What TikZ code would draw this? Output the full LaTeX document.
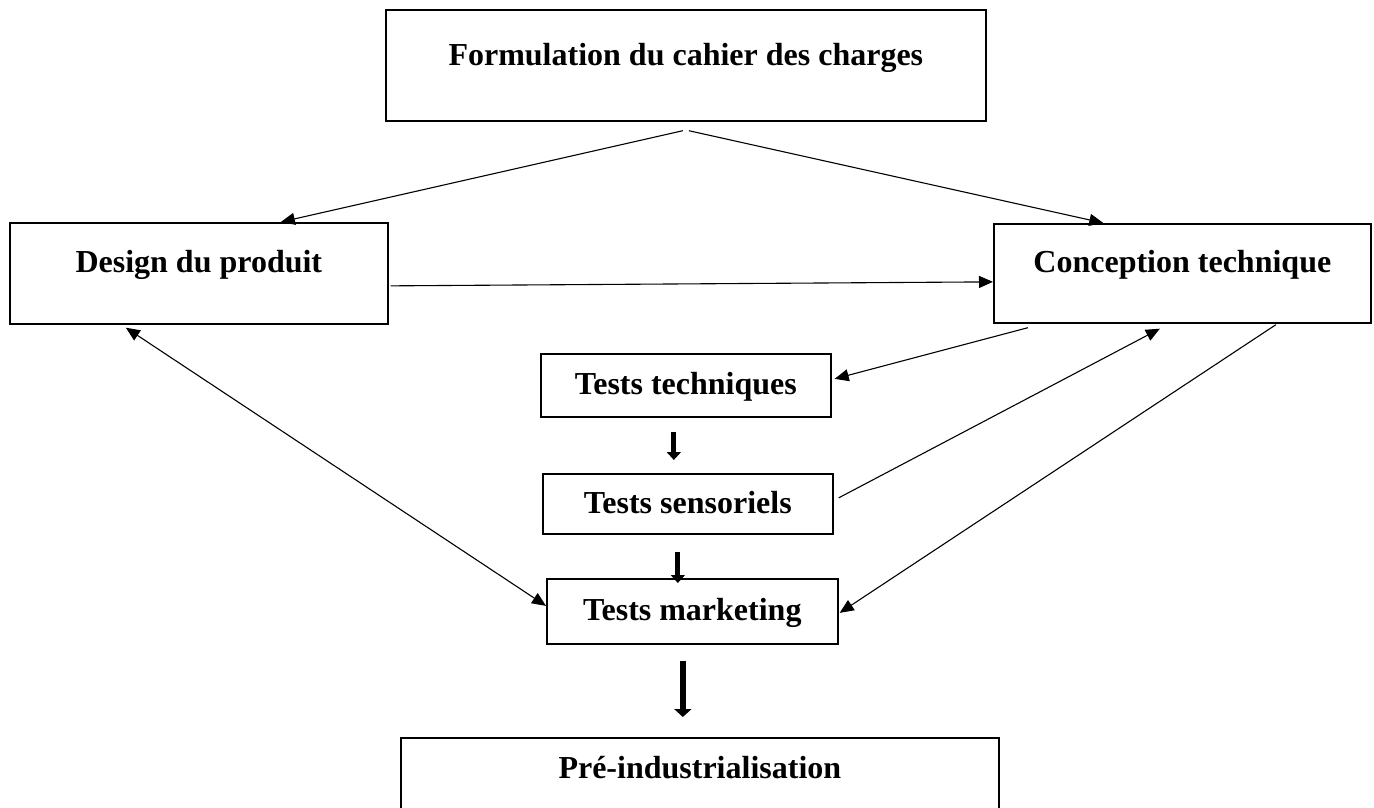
\documentclass[tikz,border=0pt]{standalone}
\usepackage{fontspec}
\setmainfont{Liberation Serif}
\usetikzlibrary{arrows.meta,calc}

\tikzset{
  box/.style={draw, line width=1.7pt, inner sep=0pt, anchor=north west,
    font=\bfseries\fontsize{32pt}{38pt}\selectfont},
  link/.style={line width=1.1pt, -{Triangle[length=14pt,width=12pt]}},
  twoway/.style={line width=1.1pt,
    {Triangle[length=14pt,width=12pt]}-{Triangle[length=14pt,width=12pt]}},
  flow/.style={line width=5pt, -{Triangle[length=8pt,width=14pt]}},
  bigflow/.style={line width=6.5pt, -{Triangle[length=8pt,width=17pt]}},
}

\begin{document}
\begin{tikzpicture}[x=1pt, y=-1pt]
  \useasboundingbox (0,0) rectangle (1374,807);
  \fill[white] (0,0) rectangle (1374,807);

  % boxes
  \node[box, minimum width=600pt, text height=56pt, text depth=55pt] (form) at (385,9)
    {Formulation du cahier des charges};
  \node[box, minimum width=378pt, text height=50pt, text depth=51pt] (design) at (9,222)
    {Design du produit};
  \node[box, minimum width=377pt, text height=49pt, text depth=50pt] (conc) at (993,223)
    {Conception technique};
  \node[box, minimum width=290pt, text height=41pt, text depth=22pt] (tt) at (540,353)
    {Tests techniques};
  \node[box, minimum width=290pt, text height=40pt, text depth=20pt] (ts) at (542,473)
    {Tests sensoriels};
  \node[box, minimum width=291pt, text height=42pt, text depth=23pt] (tm) at (546,578)
    {Tests marketing};
  \node[box, minimum width=598pt, text height=41pt, text depth=52pt] (pre) at (400,737)
    {Pré-industrialisation};

  % thin connectors
  \draw[link] ($(form.south)+(-3,9)$) -- ($(design.north)+(82,0)$);
  \draw[link] ($(form.south)+(3,9)$) -- ($(conc.north)+(-79,0)$);
  \draw[link] ($(design.east)+(2,12.5)$) -- ($(conc.west)+(0,8.5)$);
  \draw[link] ($(conc.south)+(-154.5,4)$) -- ($(tt.east)+(3,-6.5)$);
  \draw[link] ($(ts.east)+(5,-6)$) -- ($(conc.south)+(-22.5,5)$);
  \draw[link] ($(conc.south)+(93.5,1)$) -- ($(tm.east)+(1,1.5)$);
  \draw[twoway] ($(design.south)+(-73,3)$) -- ($(tm.west)+(0,-5.5)$);

  % thick downward arrows
  \draw[flow] ($(tt.south)+(-12,14)$) -- ($(ts.north)+(-14,-13)$);
  \draw[flow] ($(ts.south)+(-10,17)$) -- ($(tm.north)+(-14.5,5)$);
  \draw[bigflow] ($(tm.south)+(-9.5,16)$) -- ($(pre.north)+(-17,-20)$);
\end{tikzpicture}
\end{document}
